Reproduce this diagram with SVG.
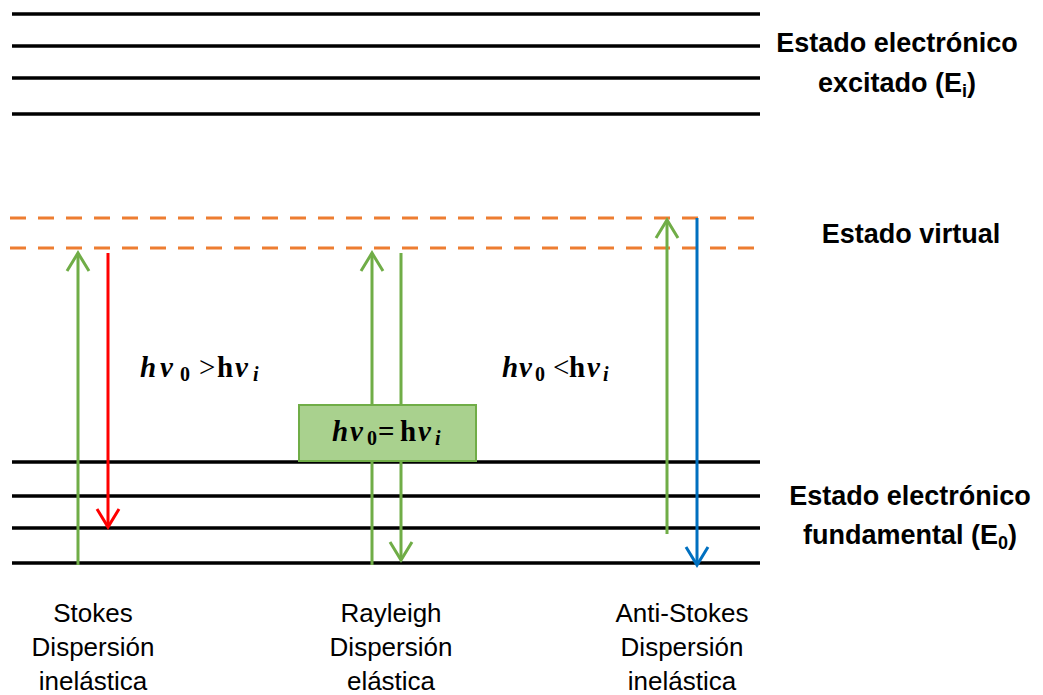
<svg xmlns="http://www.w3.org/2000/svg" width="1043" height="695" viewBox="0 0 1043 695">
<style>
.lvl{stroke:#000;stroke-width:3.5;fill:none}
.virt{stroke:#ed7d31;stroke-width:3;stroke-dasharray:16 12;fill:none}
.g{stroke:#70ad47;stroke-width:3;fill:none}
.r{stroke:#ff0000;stroke-width:3;fill:none}
.b{stroke:#0070c0;stroke-width:3;fill:none}
.lab{font-family:"Liberation Sans",Arial,sans-serif;font-weight:bold;font-size:27px;fill:#000;text-anchor:middle}
.bot{font-family:"Liberation Sans",Arial,sans-serif;font-size:26px;fill:#000;text-anchor:middle}
.m{font-family:"Liberation Serif","DejaVu Serif",serif;font-size:29px;fill:#000}
.mi{font-style:italic;font-weight:bold}
.sub{font-size:20px;font-weight:bold}
</style>
<defs>
<marker id="ag" viewBox="-20 -13 24 26" refX="0" refY="0" markerWidth="24" markerHeight="26" markerUnits="userSpaceOnUse" orient="auto"><path d="M-18,-11 L0,0 L-18,11" stroke="#70ad47" stroke-width="3" fill="none"/></marker>
<marker id="ar" viewBox="-20 -13 24 26" refX="0" refY="0" markerWidth="24" markerHeight="26" markerUnits="userSpaceOnUse" orient="auto"><path d="M-18,-11 L0,0 L-18,11" stroke="#ff0000" stroke-width="3" fill="none"/></marker>
<marker id="ab" viewBox="-20 -13 24 26" refX="0" refY="0" markerWidth="24" markerHeight="26" markerUnits="userSpaceOnUse" orient="auto"><path d="M-18,-11 L0,0 L-18,11" stroke="#0070c0" stroke-width="3" fill="none"/></marker>
</defs>
<g id="excited-levels">
<line class="lvl" x1="12" y1="14" x2="760" y2="14"/>
<line class="lvl" x1="12" y1="46" x2="760" y2="46"/>
<line class="lvl" x1="12" y1="78" x2="760" y2="78"/>
<line class="lvl" x1="12" y1="114" x2="760" y2="114"/>
<text class="lab" x="897" y="52">Estado electrónico</text>
<text class="lab" x="897" y="92">excitado (E<tspan font-size="18" dy="5">i</tspan><tspan dy="-5">)</tspan></text>
</g>
<g id="virtual-state">
<line class="virt" x1="10" y1="218" x2="760" y2="218"/>
<line class="virt" x1="10" y1="248" x2="760" y2="248"/>
<text class="lab" x="911" y="243">Estado virtual</text>
</g>
<g id="ground-levels">
<line class="lvl" x1="12" y1="462" x2="760" y2="462"/>
<line class="lvl" x1="12" y1="496" x2="760" y2="496"/>
<line class="lvl" x1="12" y1="528" x2="760" y2="528"/>
<line class="lvl" x1="12" y1="563" x2="760" y2="563"/>
<text class="lab" x="910" y="505">Estado electrónico</text>
<text class="lab" x="910" y="544">fundamental (E<tspan font-size="18" dy="5">0</tspan><tspan dy="-5">)</tspan></text>
</g>
<g id="connectors">
<line class="g" x1="78" y1="565" x2="78" y2="253" marker-end="url(#ag)"/>
<line class="r" x1="108" y1="253" x2="108" y2="527" marker-end="url(#ar)"/>
<line class="g" x1="372" y1="565" x2="372" y2="253" marker-end="url(#ag)"/>
<line class="g" x1="401" y1="253" x2="401" y2="560" marker-end="url(#ag)"/>
<line class="g" x1="667" y1="534" x2="667" y2="220" marker-end="url(#ag)"/>
<line class="b" x1="697" y1="218" x2="697" y2="565" marker-end="url(#ab)"/>
</g>
<g id="rayleigh-box">
<rect x="299" y="405" width="177" height="56" fill="#a9d18e" stroke="#70ad47" stroke-width="2"/>
<text class="m" y="441"><tspan class="mi" x="332">h</tspan><tspan class="mi" x="350">ν</tspan><tspan class="sub" x="367" dy="4">0</tspan><tspan x="378" dy="-4" font-weight="bold">=</tspan><tspan x="400" font-weight="bold">h</tspan><tspan class="mi" x="418">ν</tspan><tspan class="mi sub" x="435" dy="4">i</tspan></text>
</g>
<g id="stokes-label">
<text class="m" y="377"><tspan class="mi" x="140">h</tspan><tspan class="mi" x="160">ν</tspan><tspan class="sub" x="180" dy="4">0</tspan><tspan x="199" dy="-4">&gt;</tspan><tspan x="217" font-weight="bold">h</tspan><tspan class="mi" x="235">ν</tspan><tspan class="mi sub" x="253" dy="4">i</tspan></text>
<text class="bot" x="93" y="622">Stokes</text>
<text class="bot" x="93" y="656">Dispersión</text>
<text class="bot" x="93" y="690">inelástica</text>
</g>
<g id="antistokes-label">
<text class="m" y="377"><tspan class="mi" x="502">h</tspan><tspan class="mi" x="519">ν</tspan><tspan class="sub" x="535" dy="4">0</tspan><tspan x="553" dy="-4">&lt;</tspan><tspan x="569" font-weight="bold">h</tspan><tspan class="mi" x="587">ν</tspan><tspan class="mi sub" x="603" dy="4">i</tspan></text>
<text class="bot" x="682" y="622">Anti-Stokes</text>
<text class="bot" x="682" y="656">Dispersión</text>
<text class="bot" x="682" y="690">inelástica</text>
</g>
<g id="rayleigh-label">
<text class="bot" x="391" y="622">Rayleigh</text>
<text class="bot" x="391" y="656">Dispersión</text>
<text class="bot" x="391" y="690">elástica</text>
</g>
</svg>
